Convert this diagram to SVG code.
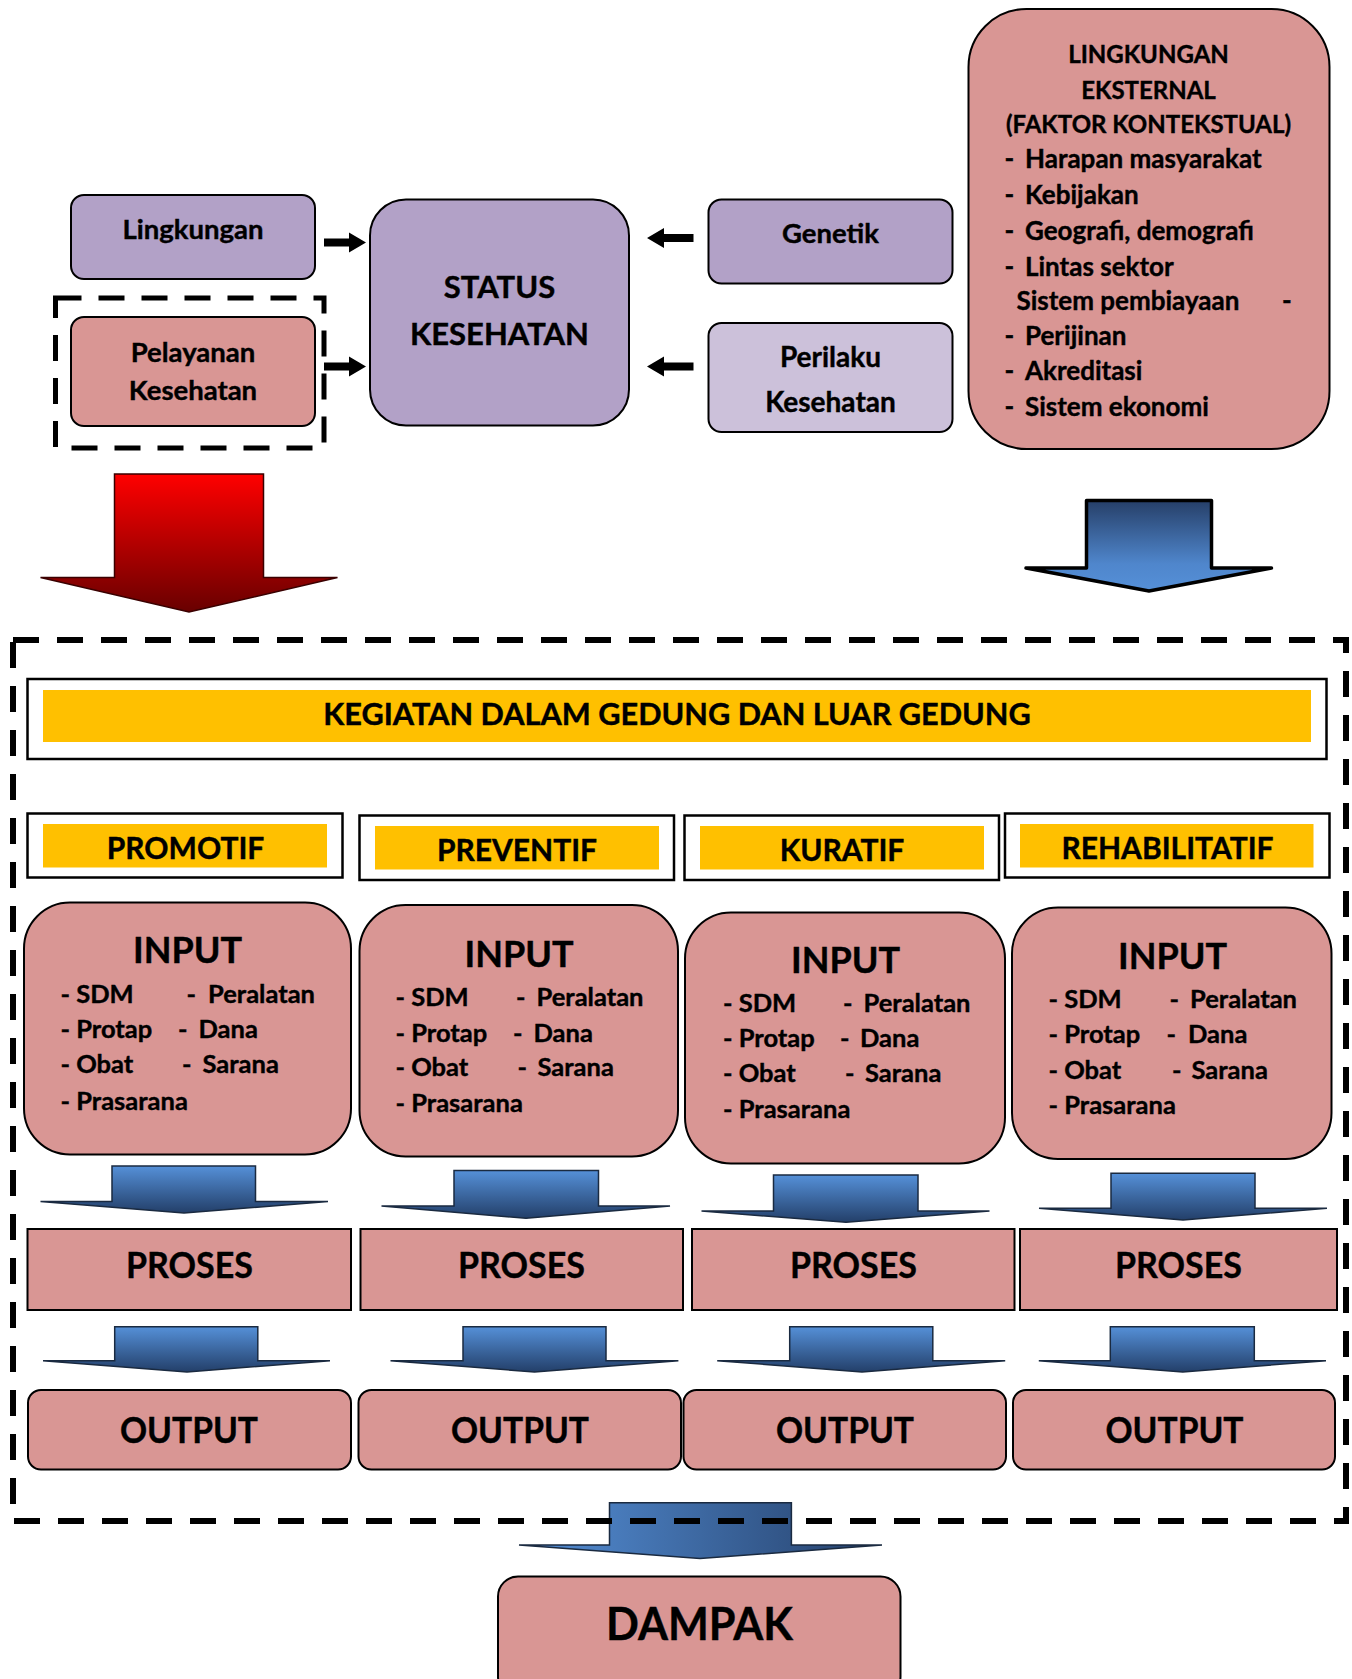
<svg xmlns="http://www.w3.org/2000/svg" width="1352" height="1679" viewBox="0 0 1352 1679">
<style>
text{font-family:Lato,"Open Sans","Liberation Sans",sans-serif;font-weight:bold;fill:#000;stroke:#000;stroke-width:0.4}
.c{text-anchor:middle}
.pink{fill:#d99694;stroke:#000;stroke-width:2}
.purp{fill:#b2a1c7;stroke:#000;stroke-width:2}
.lpurp{fill:#ccc1da;stroke:#000;stroke-width:2}
.wbox{fill:#fff;stroke:#000;stroke-width:2.5}
.yel{fill:#ffc000}
.dash{fill:none;stroke:#000;stroke-width:6;stroke-dasharray:26 18}
.blk{fill:#000}
.sm{font-size:27.5px}
.eh{font-size:24px}
.ext{font-size:26px}
.cat{font-size:30px}
.inp{font-size:36px}
.it{font-size:25.5px}
.big{font-size:37px}
</style>
<defs>
<linearGradient id="gRed" x1="0" y1="0" x2="0" y2="1"><stop offset="0" stop-color="#ff0000"/><stop offset="1" stop-color="#680000"/></linearGradient>
<linearGradient id="gBlueDn" x1="0" y1="0" x2="0" y2="1"><stop offset="0" stop-color="#263f68"/><stop offset="0.7" stop-color="#4f86cc"/><stop offset="1" stop-color="#5590d8"/></linearGradient>
<linearGradient id="gBlueUp" x1="0" y1="0" x2="0" y2="1"><stop offset="0" stop-color="#5590d8"/><stop offset="1" stop-color="#233f69"/></linearGradient>
<linearGradient id="gBlueH" x1="0" y1="0" x2="1" y2="0"><stop offset="0" stop-color="#5590d8"/><stop offset="1" stop-color="#25406a"/></linearGradient>
</defs>

<g id="lingkungan"><rect class="purp" x="71" y="195" width="244" height="84" rx="13"/><text class="c sm" x="193" y="239">Lingkungan</text></g>
<g id="pelayanan-group"><rect x="55.5" y="298" width="268.5" height="150" fill="none" stroke="#000" stroke-width="5" stroke-dasharray="26 17"/></g>
<g id="pelayanan"><rect class="pink" x="71" y="317" width="244" height="109" rx="13"/><text class="c sm" x="193" y="362">Pelayanan</text><text class="c sm" x="193" y="400">Kesehatan</text></g>
<g id="status"><rect class="purp" x="370" y="199.5" width="259" height="226" rx="36"/><text class="c" style="font-size:31px" x="499.5" y="298">STATUS</text><text class="c" style="font-size:31px" x="499.5" y="345">KESEHATAN</text></g>
<g id="genetik"><rect class="purp" x="708.5" y="199.5" width="244" height="84" rx="13"/><text class="c sm" x="830.5" y="243">Genetik</text></g>
<g id="perilaku"><rect class="lpurp" x="708.5" y="323" width="244" height="109" rx="13"/><text class="c" style="font-size:28px" x="830.5" y="367">Perilaku</text><text class="c" style="font-size:28px" x="830.5" y="412">Kesehatan</text></g>
<g id="eksternal"><rect class="pink" x="968.5" y="9" width="361" height="440" rx="58"/>
<text class="c eh" x="1148.5" y="63">LINGKUNGAN</text>
<text class="c eh" x="1148.5" y="99">EKSTERNAL</text>
<text class="c eh" x="1148.5" y="133">(FAKTOR KONTEKSTUAL)</text>
<text class="ext" x="1004.5" y="168">-</text><text class="ext" x="1025" y="168">Harapan masyarakat</text>
<text class="ext" x="1004.5" y="204">-</text><text class="ext" x="1025" y="204">Kebijakan</text>
<text class="ext" x="1004.5" y="240">-</text><text class="ext" x="1025" y="240">Geografi, demografi</text>
<text class="ext" x="1004.5" y="276">-</text><text class="ext" x="1025" y="276">Lintas sektor</text>
<text class="ext" x="1016.5" y="310">Sistem pembiayaan</text><text class="ext" x="1282" y="310">-</text>
<text class="ext" x="1004.5" y="345">-</text><text class="ext" x="1025" y="345">Perijinan</text>
<text class="ext" x="1004.5" y="380">-</text><text class="ext" x="1025" y="380">Akreditasi</text>
<text class="ext" x="1004.5" y="415.5">-</text><text class="ext" x="1025" y="415.5">Sistem ekonomi</text>
</g>

<g id="kegiatan"><rect class="wbox" x="27.5" y="679" width="1299" height="80"/><rect class="yel" x="43" y="690" width="1268" height="52"/><text class="c" style="font-size:30.7px" x="677" y="725">KEGIATAN DALAM GEDUNG DAN LUAR GEDUNG</text></g>
<g id="promotif"><rect class="wbox" x="27.5" y="813.5" width="315" height="64"/><rect class="yel" x="43" y="824" width="284" height="43.5"/><text class="c cat" x="185.5" y="859">PROMOTIF</text></g>
<g id="preventif"><rect class="wbox" x="359.5" y="815.5" width="314.5" height="64.5"/><rect class="yel" x="375" y="826" width="284" height="43.5"/><text class="c cat" x="517" y="861">PREVENTIF</text></g>
<g id="kuratif"><rect class="wbox" x="684.5" y="815.5" width="314.5" height="64.5"/><rect class="yel" x="700" y="826" width="284" height="43.5"/><text class="c cat" x="842" y="861">KURATIF</text></g>
<g id="rehabilitatif"><rect class="wbox" x="1005" y="813.5" width="324.5" height="64"/><rect class="yel" x="1020" y="824" width="293.5" height="43.5"/><text class="c cat" x="1167.5" y="859">REHABILITATIF</text></g>

<g id="input1"><rect class="pink" x="24" y="902.5" width="327" height="252" rx="46"/>
<text class="c inp" x="187.5" y="963">INPUT</text>
<text class="it" x="60.5" y="1002.5">- SDM</text><text class="it" x="186.5" y="1002.5">-</text><text class="it" x="208" y="1002.5">Peralatan</text>
<text class="it" x="60.5" y="1038">- Protap</text><text class="it" x="178" y="1038">-</text><text class="it" x="198.5" y="1038">Dana</text>
<text class="it" x="60.5" y="1073">- Obat</text><text class="it" x="182" y="1073">-</text><text class="it" x="202.5" y="1073">Sarana</text>
<text class="it" x="60.5" y="1110">- Prasarana</text></g>
<g id="input2"><rect class="pink" x="359.5" y="905" width="318.5" height="251.5" rx="46"/>
<text class="c inp" x="519" y="966.5">INPUT</text>
<text class="it" x="395.5" y="1006">- SDM</text><text class="it" x="516" y="1006">-</text><text class="it" x="536.5" y="1006">Peralatan</text>
<text class="it" x="395.5" y="1041.5">- Protap</text><text class="it" x="513" y="1041.5">-</text><text class="it" x="533.5" y="1041.5">Dana</text>
<text class="it" x="395.5" y="1076">- Obat</text><text class="it" x="517.5" y="1076">-</text><text class="it" x="537.5" y="1076">Sarana</text>
<text class="it" x="395.5" y="1111.5">- Prasarana</text></g>
<g id="input3"><rect class="pink" x="685" y="912.5" width="320" height="251" rx="46"/>
<text class="c inp" x="845.5" y="973">INPUT</text>
<text class="it" x="723" y="1011.5">- SDM</text><text class="it" x="843" y="1011.5">-</text><text class="it" x="863.5" y="1011.5">Peralatan</text>
<text class="it" x="723" y="1046.5">- Protap</text><text class="it" x="840" y="1046.5">-</text><text class="it" x="860" y="1046.5">Dana</text>
<text class="it" x="723" y="1081.5">- Obat</text><text class="it" x="845" y="1081.5">-</text><text class="it" x="865" y="1081.5">Sarana</text>
<text class="it" x="723" y="1118">- Prasarana</text></g>
<g id="input4"><rect class="pink" x="1012" y="907.5" width="319.5" height="251.5" rx="46"/>
<text class="c inp" x="1172.5" y="969">INPUT</text>
<text class="it" x="1048.5" y="1008">- SDM</text><text class="it" x="1169.5" y="1008">-</text><text class="it" x="1190" y="1008">Peralatan</text>
<text class="it" x="1048.5" y="1043">- Protap</text><text class="it" x="1166.5" y="1043">-</text><text class="it" x="1188" y="1043">Dana</text>
<text class="it" x="1048.5" y="1079">- Obat</text><text class="it" x="1172" y="1079">-</text><text class="it" x="1191.5" y="1079">Sarana</text>
<text class="it" x="1048.5" y="1114">- Prasarana</text></g>

<g id="proses1"><rect class="pink" x="27.5" y="1229" width="323.5" height="81"/><text class="c big" x="189.5" y="1278" textLength="127" lengthAdjust="spacingAndGlyphs">PROSES</text></g>
<g id="proses2"><rect class="pink" x="360.5" y="1229" width="322.5" height="81"/><text class="c big" x="521.5" y="1278" textLength="127" lengthAdjust="spacingAndGlyphs">PROSES</text></g>
<g id="proses3"><rect class="pink" x="692" y="1229" width="322.5" height="81"/><text class="c big" x="853.5" y="1278" textLength="127" lengthAdjust="spacingAndGlyphs">PROSES</text></g>
<g id="proses4"><rect class="pink" x="1020" y="1229" width="317" height="81"/><text class="c big" x="1178.5" y="1278" textLength="127" lengthAdjust="spacingAndGlyphs">PROSES</text></g>

<g id="output1"><rect class="pink" x="28" y="1390" width="323" height="79.5" rx="13"/><text class="c big" x="189" y="1443" textLength="138" lengthAdjust="spacingAndGlyphs">OUTPUT</text></g>
<g id="output2"><rect class="pink" x="358.5" y="1390" width="322.5" height="79.5" rx="13"/><text class="c big" x="520" y="1443" textLength="138" lengthAdjust="spacingAndGlyphs">OUTPUT</text></g>
<g id="output3"><rect class="pink" x="683.5" y="1390" width="322.5" height="79.5" rx="13"/><text class="c big" x="845" y="1443" textLength="138" lengthAdjust="spacingAndGlyphs">OUTPUT</text></g>
<g id="output4"><rect class="pink" x="1013" y="1390" width="322" height="79.5" rx="13"/><text class="c big" x="1174.5" y="1443" textLength="138" lengthAdjust="spacingAndGlyphs">OUTPUT</text></g>

<g id="dampak"><rect class="pink" x="498" y="1576.5" width="402.5" height="120" rx="20"/><text class="c" style="font-size:46px" x="699.5" y="1640" textLength="187" lengthAdjust="spacingAndGlyphs">DAMPAK</text></g>

<g id="connectors">
<polygon class="blk" points="324,238.5 349,238.5 349,232.5 366,242.5 349,252.5 349,246.5 324,246.5"/>
<polygon class="blk" points="324,362.5 349,362.5 349,356.5 366,366.5 349,376.5 349,370.5 324,370.5"/>
<polygon class="blk" points="693.5,234 664,234 664,228 647,238 664,248 664,242 693.5,242"/>
<polygon class="blk" points="693.5,362.5 664,362.5 664,356.5 647,366.5 664,376.5 664,370.5 693.5,370.5"/>
<polygon fill="url(#gRed)" stroke="#3a0000" stroke-width="1.5" points="114.5,474 263.5,474 263.5,577.5 337.5,577.5 189,612 40.5,577.5 114.5,577.5"/>
<polygon fill="url(#gBlueDn)" stroke="#000" stroke-width="3.5" stroke-linejoin="round" points="1086.5,500.5 1211.5,500.5 1211.5,568 1271.5,568 1149,591 1026,568 1086.5,568"/>
<polygon fill="url(#gBlueUp)" stroke="#1a2a40" stroke-width="1.5" points="112,1166 255.5,1166 255.5,1201.5 328,1201.5 184,1213 40.5,1201.5 112,1201.5"/>
<polygon fill="url(#gBlueUp)" stroke="#1a2a40" stroke-width="1.5" points="454,1170.5 598.5,1170.5 598.5,1206 670,1206 526,1218.3 381.5,1206 454,1206"/>
<polygon fill="url(#gBlueUp)" stroke="#1a2a40" stroke-width="1.5" points="773.5,1175 918,1175 918,1211 989.5,1211 846,1222.3 701.5,1211 773.5,1211"/>
<polygon fill="url(#gBlueUp)" stroke="#1a2a40" stroke-width="1.5" points="1111,1173.3 1255,1173.3 1255,1208.3 1327,1208.3 1183,1220 1039,1208.3 1111,1208.3"/>
<polygon fill="url(#gBlueUp)" stroke="#1a2a40" stroke-width="1.5" points="114.7,1326.7 257.8,1326.7 257.8,1360.7 330,1360.7 187,1372 43,1360.7 114.7,1360.7"/>
<polygon fill="url(#gBlueUp)" stroke="#1a2a40" stroke-width="1.5" points="463,1326.7 606,1326.7 606,1360.7 678.4,1360.7 534.5,1372 390.5,1360.7 463,1360.7"/>
<polygon fill="url(#gBlueUp)" stroke="#1a2a40" stroke-width="1.5" points="789.7,1326.7 932.8,1326.7 932.8,1360.7 1005.2,1360.7 862,1372 717.2,1360.7 789.7,1360.7"/>
<polygon fill="url(#gBlueUp)" stroke="#1a2a40" stroke-width="1.5" points="1110.3,1326.7 1254.3,1326.7 1254.3,1360.7 1326,1360.7 1182.8,1372 1038.8,1360.7 1110.3,1360.7"/>
<polygon fill="url(#gBlueH)" stroke="#1a2a40" stroke-width="1.5" points="609.5,1502.7 791.4,1502.7 791.4,1545 882,1545 700,1558.5 519,1545 609.5,1545"/>
</g>

<g id="frame"><rect class="dash" x="13" y="640" width="1333" height="881"/></g>
</svg>
